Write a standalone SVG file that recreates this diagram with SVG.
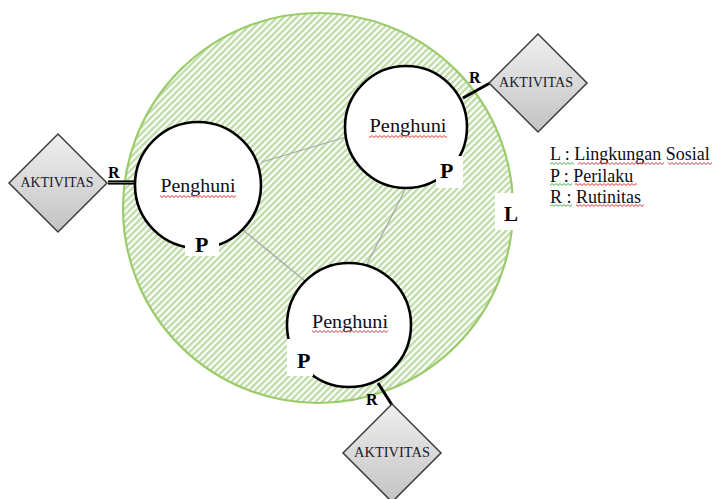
<svg xmlns="http://www.w3.org/2000/svg" width="717" height="499" viewBox="0 0 717 499">
<defs>
<pattern id="hatch" width="4.6" height="10" patternUnits="userSpaceOnUse" patternTransform="rotate(45)">
<rect width="4.6" height="10" fill="#ffffff"/>
<line x1="1.2" y1="0" x2="1.2" y2="10" stroke="#bedca6" stroke-width="2.4"/>
</pattern>
<pattern id="wavyRed" width="4" height="3" patternUnits="userSpaceOnUse">
<path d="M0 0.6 L2 2.4 L4 0.6" fill="none" stroke="#e52222" stroke-width="0.9"/>
</pattern>
<pattern id="wavyGreen" width="4" height="3" patternUnits="userSpaceOnUse">
<path d="M0 0.6 L2 2.4 L4 0.6" fill="none" stroke="#3aa53a" stroke-width="0.9"/>
</pattern>
<linearGradient id="dgrad" x1="0" y1="0" x2="0" y2="1">
<stop offset="0" stop-color="#efefef"/>
<stop offset="1" stop-color="#c3c3c3"/>
</linearGradient>
</defs>
<style>
.env{fill:url(#hatch);stroke:#9ccb6c;stroke-width:2.2}
.pen{fill:#ffffff;stroke:#000000;stroke-width:2.6}
.dia{fill:url(#dgrad);stroke:#3c3c3c;stroke-width:1.5}
.rel{stroke:#a8a8a8;stroke-width:1.3;fill:none}
.con{stroke:#000000;stroke-width:3;fill:none}
.lbl{font-family:"Liberation Serif","Times New Roman",serif;font-size:18.5px;fill:#0d0d1a}
.akt{font-family:"Liberation Serif","Times New Roman",serif;font-size:14px;fill:#1a1a2a;text-anchor:middle}
.r{font-family:"Liberation Serif","Times New Roman",serif;font-size:16px;font-weight:bold;fill:#000000}
.p{font-family:"Liberation Serif","Times New Roman",serif;font-size:22px;font-weight:bold;fill:#000000}
.leg{font-family:"Liberation Serif","Times New Roman",serif;font-size:18px;fill:#0d0d1a}
.mask{fill:#ffffff}
.wr{fill:url(#wavyRed)}
.wg{fill:url(#wavyGreen)}
</style>

<g id="lingkungan">
<circle class="env" cx="318" cy="208" r="195"/>
</g>

<g id="connectors">
<line class="rel" x1="262" y1="162" x2="346" y2="137"/>
<line class="rel" x1="243" y1="230" x2="305" y2="281"/>
<line class="rel" x1="405" y1="190" x2="367" y2="264"/>
<line x1="108" y1="182.5" x2="136" y2="182.5" stroke="#000000" stroke-width="4.2"/>
<line x1="108" y1="182.5" x2="135" y2="182.5" stroke="#9a9a9a" stroke-width="0.8"/>
<line class="con" x1="463" y1="98" x2="490" y2="83"/>
<line class="con" x1="378" y1="383" x2="392" y2="405"/>
</g>

<g id="penghuni1">
<circle class="pen" cx="198" cy="185" r="63"/>
<rect class="mask" x="185" y="233" width="34" height="23"/>
<text class="lbl" x="198" y="192" text-anchor="middle" textLength="75" lengthAdjust="spacingAndGlyphs">Penghuni</text>
<rect class="wr" x="160" y="195" width="76" height="3"/>
<text class="p" x="195" y="252">P</text>
</g>

<g id="penghuni2">
<circle class="pen" cx="406" cy="127" r="61"/>
<rect class="mask" x="436" y="156" width="27" height="32"/>
<text class="lbl" x="408" y="132" text-anchor="middle" textLength="77" lengthAdjust="spacingAndGlyphs">Penghuni</text>
<rect class="wr" x="369" y="135" width="78" height="3"/>
<text class="p" x="440" y="178">P</text>
</g>

<g id="penghuni3">
<circle class="pen" cx="349" cy="325" r="62"/>
<rect class="mask" x="287" y="339" width="26" height="37"/>
<text class="lbl" x="350" y="328" text-anchor="middle" textLength="76" lengthAdjust="spacingAndGlyphs">Penghuni</text>
<rect class="wr" x="312" y="330" width="76" height="3"/>
<text class="p" x="297" y="368">P</text>
</g>

<g id="aktivitas1">
<polygon class="dia" points="9,183 58,134 107,183 58,232"/>
<text class="akt" x="57" y="187" textLength="73" lengthAdjust="spacingAndGlyphs">AKTIVITAS</text>
<text class="r" x="108" y="178">R</text>
</g>

<g id="aktivitas2">
<polygon class="dia" points="489,83 538,34 587,83 538,132"/>
<text class="akt" x="536" y="87" textLength="74" lengthAdjust="spacingAndGlyphs">AKTIVITAS</text>
<text class="r" x="469" y="83">R</text>
</g>

<g id="aktivitas3">
<polygon class="dia" points="343,453 392,404 441,453 392,502"/>
<text class="akt" x="392" y="457" textLength="76" lengthAdjust="spacingAndGlyphs">AKTIVITAS</text>
<text class="r" x="366" y="405">R</text>
</g>

<g id="label-l">
<rect class="mask" x="495" y="193" width="26" height="37"/>
<text class="p" x="504" y="221" style="font-size:21px">L</text>
</g>

<g id="legend">
<text class="leg" x="550" y="160">L : Lingkungan Sosial</text>
<rect class="wg" x="550" y="162" width="24" height="3"/>
<rect class="wr" x="578" y="162" width="86" height="3"/>
<rect class="wr" x="668" y="162" width="44" height="3"/>
<text class="leg" x="550" y="182">P : Perilaku</text>
<rect class="wg" x="550" y="183" width="22" height="3"/>
<rect class="wr" x="575" y="183" width="62" height="3"/>
<text class="leg" x="550" y="203">R : Rutinitas</text>
<rect class="wg" x="550" y="204" width="22" height="3"/>
<rect class="wr" x="576" y="204" width="68" height="3"/>
</g>
</svg>
